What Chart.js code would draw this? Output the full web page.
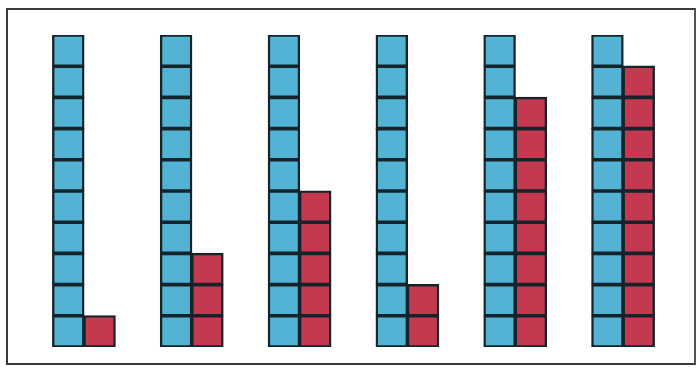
<!DOCTYPE html>
<html>
<head>
<meta charset="utf-8">
<script src="https://cdn.jsdelivr.net/npm/chart.js@4"></script>
<style>
  html, body { margin: 0; padding: 0; background: #fff; }
  #wrap { position: relative; width: 697px; height: 372px; }
  #frame { position: absolute; left: 6px; top: 8px; width: 690px; height: 357px;
           border: 2px solid #3a3a3a; border-right: 2px solid #555; box-sizing: border-box; pointer-events: none; }
  canvas { position: absolute; left: 0; top: 0; }
</style>
</head>
<body>
<div id="wrap">
  <div id="frame"></div>
  <canvas id="c" width="697" height="372"></canvas>
</div>
<script>
// Data: number of unit blocks in each group
const categories = ['1', '2', '3', '4', '5', '6'];
const blueCounts = [10, 10, 10, 10, 10, 10];
const redCounts = [1, 3, 5, 2, 8, 9];

const blueFill = '#52b3d5';
const redFill = '#c33a50';
const edge = '#15232a';

function unitDatasets(counts, stack, color) {
  const max = Math.max(...counts);
  const sets = [];
  for (let k = 0; k < max; k++) {
    sets.push({
      label: stack + k,
      stack: stack,
      data: counts.map(c => (c > k ? 1 : null)),
      backgroundColor: color,
      borderColor: edge,
      borderWidth: 2.4,
      borderSkipped: false,
      inflateAmount: 0.6,
      barPercentage: 1.0,
      categoryPercentage: 0.58
    });
  }
  return sets;
}

const datasets = unitDatasets(blueCounts, 'blue', blueFill)
  .concat(unitDatasets(redCounts, 'red', redFill));

new Chart(document.getElementById('c'), {
  type: 'bar',
  data: { labels: categories, datasets: datasets },
  options: {
    responsive: false,
    animation: false,
    layout: { padding: { left: 30, right: 20, top: 35, bottom: 25 } },
    plugins: { legend: { display: false }, tooltip: { enabled: false } },
    scales: {
      x: { stacked: true, display: false },
      y: { stacked: true, display: false, min: 0, max: 10 }
    }
  }
});
</script>
</body>
</html>
